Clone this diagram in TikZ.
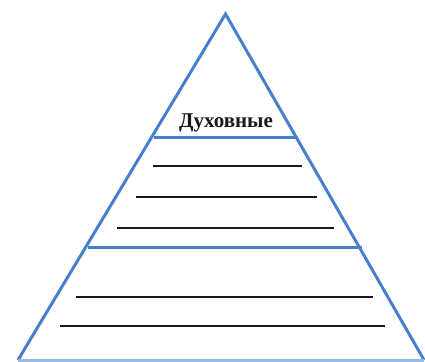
\documentclass[tikz,border=0pt]{standalone}
\usepackage{fontspec}
\setmainfont{Liberation Serif}
\definecolor{pyrblue}{RGB}{70,128,205}
\definecolor{inkline}{RGB}{25,25,25}
\begin{document}
\begin{tikzpicture}[x=1pt,y=-1pt,
  edge/.style={draw=pyrblue,line width=3pt,line join=miter},
  divider/.style={draw=pyrblue,line width=3pt},
  writeline/.style={draw=inkline,line width=1.7pt},
  label/.style={font=\bfseries\fontsize{21}{24}\selectfont,text=black!90,inner sep=0pt}]
\useasboundingbox (0,0) rectangle (425,361);
\coordinate (apex) at (225.5,14);
\coordinate (bl) at (18,360);
\coordinate (br) at (424,360);
\draw[edge] (bl) -- (apex) -- (br);
\draw[draw=pyrblue!55,line width=3pt] (bl) -- (br);
% dividers
\coordinate (d1l) at (154,137); \coordinate (d1r) at (297,137);
\coordinate (d2l) at (88,247); \coordinate (d2r) at (362,247);
\draw[divider] (d1l) -- (d1r);
\draw[divider] (d2l) -- (d2r);
% label
\node[label,anchor=base] (top) at (226,127) {Духовные};
% writing lines
\coordinate (w1l) at (153,166); \coordinate (w1r) at (302,166);
\coordinate (w2l) at (136,197); \coordinate (w2r) at (317,197);
\coordinate (w3l) at (117,228); \coordinate (w3r) at (334,228);
\coordinate (w4l) at (76,297); \coordinate (w4r) at (373,297);
\coordinate (w5l) at (60,326); \coordinate (w5r) at (385,326);
\draw[writeline] (w1l) -- (w1r);
\draw[writeline] (w2l) -- (w2r);
\draw[writeline] (w3l) -- (w3r);
\draw[writeline] (w4l) -- (w4r);
\draw[writeline] (w5l) -- (w5r);
\end{tikzpicture}
\end{document}
